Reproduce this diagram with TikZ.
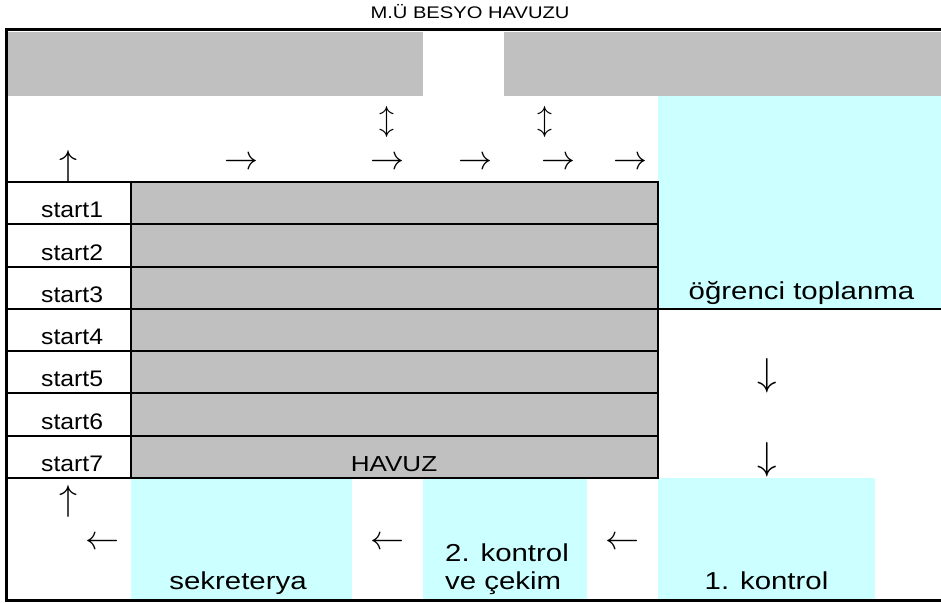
\RequirePackage{fix-cm}
\documentclass[tikz,border=0pt]{standalone}
\usepackage{fontspec}
\setmainfont{Liberation Sans}
\newfontfamily\rf{Liberation Sans}[FakeStretch=1.2]
\newfontfamily\rfa{Liberation Sans}[FakeStretch=1.1]
\definecolor{pgray}{HTML}{C0C0C0}
\definecolor{pcyan}{HTML}{CCFFFF}
\begin{document}
\begin{tikzpicture}[x=1pt,y=-1pt,
  lbl/.style={inner sep=0pt, font=\rfa\fontsize{22.5}{25}\selectfont},
  hv/.style={inner sep=0pt, font=\rf\fontsize{21.7}{25}\selectfont},
  big/.style={inner sep=0pt, font=\rf\fontsize{24.5}{28}\selectfont},
  ttl/.style={inner sep=0pt, font=\rf\fontsize{16.8}{20}\selectfont},
  harr/.style={inner sep=0pt, font=\fontsize{34}{36}\selectfont},
  udarr/.style={inner sep=0pt, font=\fontsize{30}{36}\selectfont},
  uarr/.style={inner sep=0pt, font=\fontsize{36}{40}\selectfont},
  darr/.style={inner sep=0pt, font=\fontsize{39}{46}\selectfont},
  frameline/.style={line width=3pt},
  gridline/.style={line width=2pt}]
\useasboundingbox (0,0) rectangle (941,602);
% fills
\fill[pgray] (7,32) rectangle (423,96);
\fill[pgray] (504,32) rectangle (941,96);
\fill[pcyan] (658,96) rectangle (941,309);
\fill[pgray] (131,182) rectangle (658,478);
\fill[pcyan] (131,478) rectangle (352,600);
\fill[pcyan] (423,478) rectangle (587,600);
\fill[pcyan] (658,478) rectangle (875,600);
% table lines
\foreach \y in {182,224.3,266.6,308.9,351.1,393.4,435.7,478}
  \draw[gridline] (7,\y) -- (658,\y);
\draw[gridline] (131,182) -- (131,478);
\draw[gridline] (658,181) -- (658,479);
\draw[gridline] (658,309) -- (941,309);
% frame
\draw[frameline] (941,30) -- (6,30) -- (6,600) -- (941,600);
% title
\node[ttl, anchor=base] (title) at (470,19) {M.Ü BESYO HAVUZU};
% start labels
\node[lbl, anchor=base west] (s1) at (41,217.8) {start1};
\node[lbl, anchor=base west] (s2) at (41,260.1) {start2};
\node[lbl, anchor=base west] (s3) at (41,302.4) {start3};
\node[lbl, anchor=base west] (s4) at (41,344.6) {start4};
\node[lbl, anchor=base west] (s5) at (41,386.9) {start5};
\node[lbl, anchor=base west] (s6) at (41,429.2) {start6};
\node[lbl, anchor=base west] (s7) at (41,471.5) {start7};
\node[hv, anchor=base] (havuz) at (394,471.5) {HAVUZ};
\node[big, anchor=base] (ogr) at (801.5,299) {öğrenci toplanma};
\node[big, anchor=base] (sek) at (238,589) {sekreterya};
\node[big, anchor=base west] (k2a) at (445,561) {2. kontrol};
\node[big, anchor=base west] (k2b) at (445,589) {ve çekim};
\node[big, anchor=base] (k1) at (766.5,589) {1. kontrol};
% arrows
\node[uarr] (u1) at (68,166.5) {$\uparrow$};
\node[harr] (r1) at (241,163) {$\rightarrow$};
\node[harr] (r2) at (387,163) {$\rightarrow$};
\node[harr] (r3) at (475,163) {$\rightarrow$};
\node[harr] (r4) at (558,163) {$\rightarrow$};
\node[harr] (r5) at (630,163) {$\rightarrow$};
\node[udarr] (ud1) at (387,122) {$\updownarrow$};
\node[udarr] (ud2) at (545,122) {$\updownarrow$};
\node[darr] (d1) at (767,376) {$\downarrow$};
\node[darr] (d2) at (767,460) {$\downarrow$};
\node[uarr] (u2) at (68,501) {$\uparrow$};
\node[harr] (l1) at (102.5,543) {$\leftarrow$};
\node[harr] (l2) at (387.5,543) {$\leftarrow$};
\node[harr] (l3) at (622,543) {$\leftarrow$};
\end{tikzpicture}
\end{document}
